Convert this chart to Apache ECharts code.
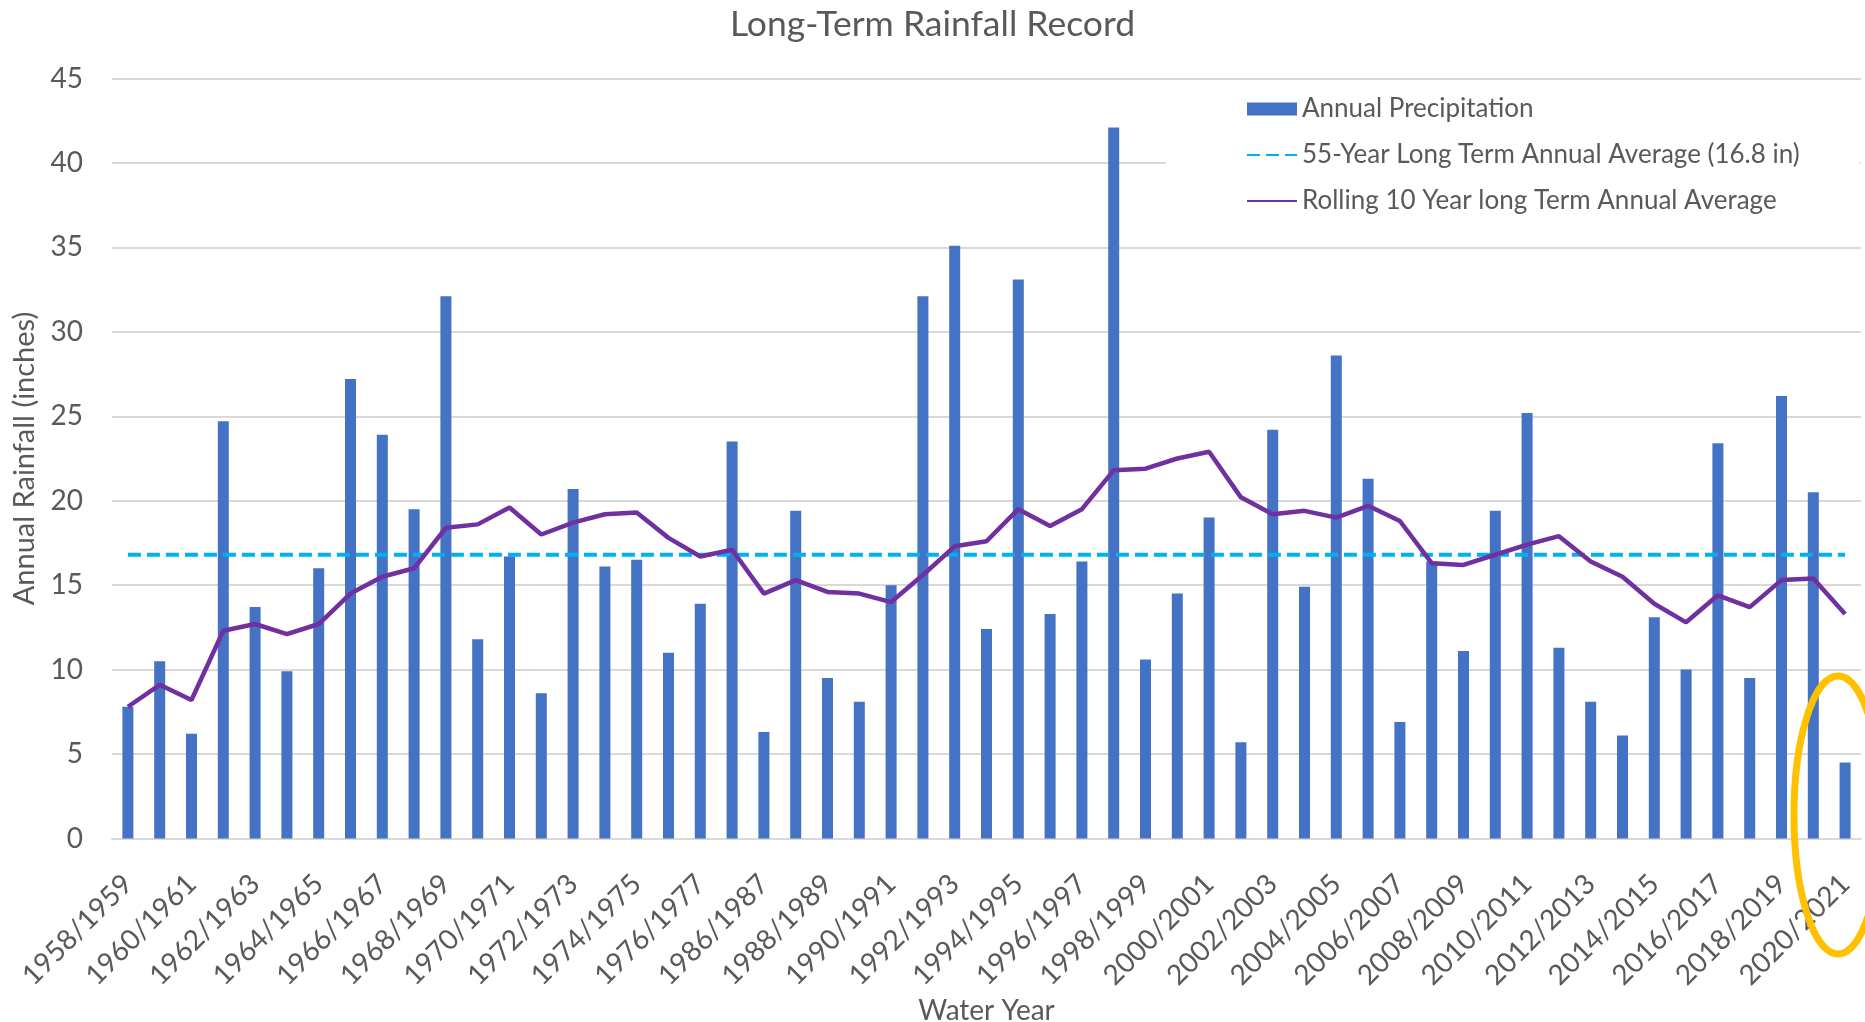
<!DOCTYPE html>
<html>
<head>
<meta charset="utf-8">
<script src="https://cdn.jsdelivr.net/npm/echarts@6/dist/echarts.min.js"></script>
<style>
  html, body { margin: 0; padding: 0; background: #fff; }
  #chart { width: 1865px; height: 1022px; }
</style>
</head>
<body>
<div id="chart"></div>
<script>
const categories = [
  '1958/1959','1959/1960','1960/1961','1961/1962','1962/1963','1963/1964','1964/1965','1965/1966','1966/1967','1967/1968',
  '1968/1969','1969/1970','1970/1971','1971/1972','1972/1973','1973/1974','1974/1975','1975/1976','1976/1977','1977/1978',
  '1986/1987','1987/1988','1988/1989','1989/1990','1990/1991','1991/1992','1992/1993','1993/1994','1994/1995','1995/1996',
  '1996/1997','1997/1998','1998/1999','1999/2000','2000/2001','2001/2002','2002/2003','2003/2004','2004/2005','2005/2006',
  '2006/2007','2007/2008','2008/2009','2009/2010','2010/2011','2011/2012','2012/2013','2013/2014','2014/2015','2015/2016',
  '2016/2017','2017/2018','2018/2019','2019/2020','2020/2021'
];

const annualPrecipitation = [
  7.8, 10.5, 6.2, 24.7, 13.7, 9.9, 16.0, 27.2, 23.9, 19.5,
  32.1, 11.8, 16.7, 8.6, 20.7, 16.1, 16.5, 11.0, 13.9, 23.5,
  6.3, 19.4, 9.5, 8.1, 15.0, 32.1, 35.1, 12.4, 33.1, 13.3,
  16.4, 42.1, 10.6, 14.5, 19.0, 5.7, 24.2, 14.9, 28.6, 21.3,
  6.9, 16.4, 11.1, 19.4, 25.2, 11.3, 8.1, 6.1, 13.1, 10.0,
  23.4, 9.5, 26.2, 20.5, 4.5
];

const longTermAverage = [
  16.8, 16.8, 16.8, 16.8, 16.8, 16.8, 16.8, 16.8, 16.8, 16.8,
  16.8, 16.8, 16.8, 16.8, 16.8, 16.8, 16.8, 16.8, 16.8, 16.8,
  16.8, 16.8, 16.8, 16.8, 16.8, 16.8, 16.8, 16.8, 16.8, 16.8,
  16.8, 16.8, 16.8, 16.8, 16.8, 16.8, 16.8, 16.8, 16.8, 16.8,
  16.8, 16.8, 16.8, 16.8, 16.8, 16.8, 16.8, 16.8, 16.8, 16.8,
  16.8, 16.8, 16.8, 16.8, 16.8
];

const rolling10Year = [
  7.8, 9.1, 8.2, 12.3, 12.7, 12.1, 12.7, 14.5, 15.5, 16.0,
  18.4, 18.6, 19.6, 18.0, 18.7, 19.2, 19.3, 17.8, 16.7, 17.1,
  14.5, 15.3, 14.6, 14.5, 14.0, 15.6, 17.3, 17.6, 19.5, 18.5,
  19.5, 21.8, 21.9, 22.5, 22.9, 20.2, 19.2, 19.4, 19.0, 19.7,
  18.8, 16.3, 16.2, 16.8, 17.4, 17.9, 16.4, 15.5, 13.9, 12.8,
  14.4, 13.7, 15.3, 15.4, 13.3
];

const yTicks = { min: 0, max: 45, interval: 5 };

const FONT = 'Lato, "Noto Sans", sans-serif';
const TXT = '#595959';

const chart = echarts.init(document.getElementById('chart'), null, { renderer: 'canvas' });
chart.setOption({
  animation: false,
  backgroundColor: '#ffffff',
  textStyle: { fontFamily: FONT, color: TXT },
  title: {
    text: 'Long-Term Rainfall Record',
    left: 'center',
    top: 2,
    textStyle: { fontFamily: FONT, fontSize: 35.5, fontWeight: 'normal', color: TXT }
  },
  grid: { left: 112, right: 4, top: 78.5, bottom: 183.5, containLabel: false, outerBoundsMode: 'none' },
  legend: {
    orient: 'vertical',
    left: 1166,
    top: 86,
    padding: [8, 60, 12, 80],
    backgroundColor: '#ffffff',
    itemWidth: 50,
    itemHeight: 13,
    itemGap: 16,
    textStyle: { fontFamily: FONT, fontSize: 26, color: TXT, lineHeight: 30 },
    data: [
      { name: 'Annual Precipitation', icon: 'rect' },
      { name: '55-Year Long Term Annual Average (16.8 in)', itemStyle: { opacity: 0 } },
      { name: 'Rolling 10 Year long Term Annual Average', itemStyle: { opacity: 0 } }
    ]
  },
  xAxis: {
    type: 'category',
    data: categories,
    boundaryGap: true,
    name: 'Water Year',
    nameLocation: 'middle',
    nameGap: 158,
    nameTextStyle: { fontFamily: FONT, fontSize: 28, color: TXT },
    axisLine: { lineStyle: { color: '#D9D9D9', width: 2 } },
    axisTick: { show: false },
    axisLabel: {
      interval: 1,
      rotate: 45,
      margin: 41,
      fontFamily: FONT,
      fontSize: 28,
      color: TXT
    }
  },
  yAxis: {
    type: 'value',
    min: yTicks.min,
    max: yTicks.max,
    interval: yTicks.interval,
    name: 'Annual Rainfall (inches)',
    nameLocation: 'middle',
    nameRotate: 90,
    nameGap: 72,
    nameTextStyle: { fontFamily: FONT, fontSize: 29, color: TXT },
    axisLine: { show: false },
    axisTick: { show: false },
    axisLabel: { margin: 29, fontFamily: FONT, fontSize: 28, color: TXT },
    splitLine: { lineStyle: { color: '#D9D9D9', width: 2 } }
  },
  series: [
    {
      name: 'Annual Precipitation',
      type: 'bar',
      data: annualPrecipitation,
      barWidth: 11,
      itemStyle: { color: '#4472C4' },
      z: 2
    },
    {
      name: '55-Year Long Term Annual Average (16.8 in)',
      type: 'line',
      data: longTermAverage,
      symbol: 'none',
      lineStyle: { color: '#00B0F0', width: 4, type: [13, 6] },
      itemStyle: { color: '#00B0F0' },
      z: 3
    },
    {
      name: 'Rolling 10 Year long Term Annual Average',
      type: 'line',
      data: rolling10Year,
      symbol: 'none',
      lineStyle: { color: '#7030A0', width: 4.5 },
      itemStyle: { color: '#7030A0' },
      z: 4
    }
  ],
  graphic: [
    {
      type: 'ellipse',
      shape: { cx: 1838, cy: 815, rx: 44, ry: 139 },
      style: { fill: 'none', stroke: '#FFC000', lineWidth: 7 },
      z: 100
    }
  ]
});
</script>
</body>
</html>
